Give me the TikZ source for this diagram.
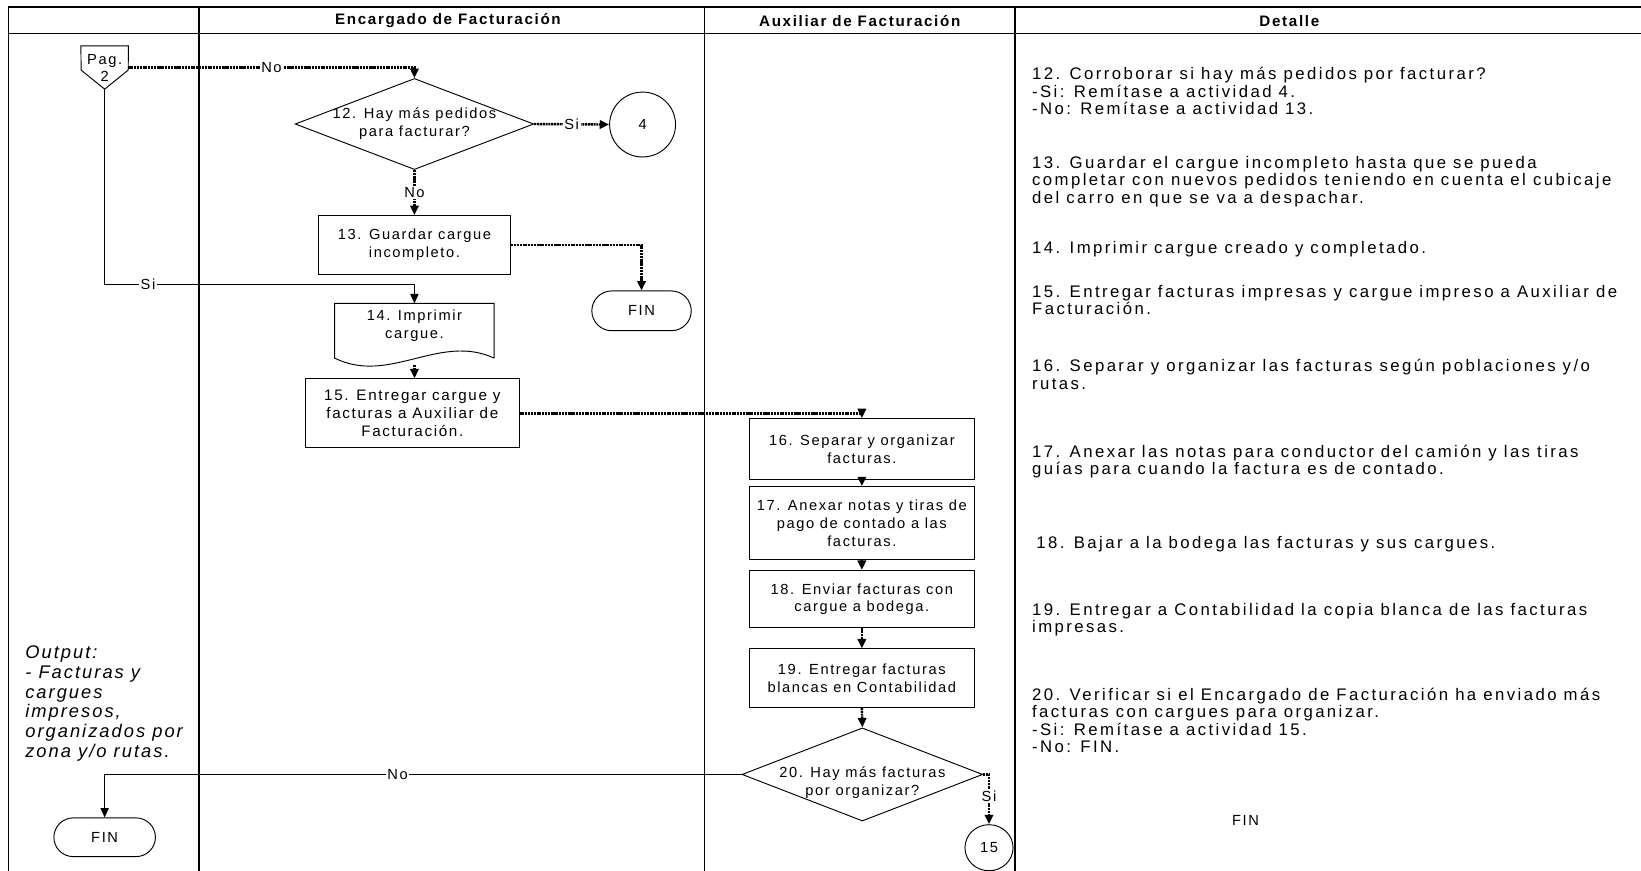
\documentclass[tikz,border=0pt]{standalone}
\usepackage{fontspec}
\setmainfont{Liberation Sans}[LetterSpace=11]
\newfontfamily\detfam{Liberation Sans}[LetterSpace=14.5]
\usetikzlibrary{arrows.meta,shapes.geometric,shapes.misc}

\newcommand\boxfont{\fontsize{14}{17}\selectfont}
\newcommand\detfont{\detfam\fontsize{16}{16.7}\selectfont}
\newcommand\headfont{\fontsize{14.5}{17}\selectfont\bfseries}

\begin{document}
\begin{tikzpicture}[x=1pt,y=-1pt,
  grid/.style={line width=1.6pt},
  shp/.style={draw,line width=0.9pt,inner sep=0pt},
  proc/.style={shp,rectangle,align=center,font=\boxfont},
  dec/.style={shp,diamond},
  term/.style={shp,rounded rectangle,font=\boxfont},
  conn/.style={shp,ellipse,font=\boxfont},
  txt/.style={inner sep=0pt,align=center,font=\boxfont},
  det/.style={inner sep=0pt,align=left,anchor=base west,font=\detfont},
  lbl/.style={fill=white,inner sep=1.5pt,font=\boxfont},
  flow/.style={line width=0.9pt,-{Triangle[length=9pt,width=8pt]}},
  dflow/.style={line width=2.3pt,dash pattern=on 2pt off 0.7pt,-{Triangle[length=9pt,width=8pt]}}]

\useasboundingbox (0,0) rectangle (1568,832);

% swimlane table
\draw[grid] (8,7) -- (1568,7);
\draw[grid] (8,32) -- (1568,32);
\foreach \cx in {8,190,673,970} \draw[grid] (\cx,7) -- (\cx,832);
\node[inner sep=0pt,font=\headfont] (h1) at (428,20) {Encargado de Facturación};
\node[inner sep=0pt,font=\headfont] (h2) at (821.5,20) {Auxiliar de Facturación};
\node[inner sep=0pt,font=\headfont] (h3) at (1232,20) {Detalle};

% off-page connector
\node[minimum width=45pt,minimum height=41pt,inner sep=0pt] (pag) at (100,64.5) {};
\draw[line width=0.9pt] (pag.north west) -- (pag.north east) -- (122.5,67) -- (pag.south) -- (77.5,67) -- cycle;
\node[txt,font=\fontsize{14}{16}\selectfont] (tpag) at (100,65) {Pag.\\2};

% Encargado de Facturacion lane
\node[dec,minimum width=228pt,minimum height=87pt] (d12) at (396,118.5) {};
\node[txt] (t12) at (d12) {12. Hay más pedidos\\para facturar?};
\node[conn,minimum width=63pt,minimum height=62pt] (c4) at (614,119) {4};
\node[proc,minimum width=184pt,minimum height=56pt] (b13) at (396,234) {13. Guardar cargue\\incompleto.};
\node[term,minimum width=95pt,minimum height=38pt] (fin1) at (613,297) {FIN};

\node[minimum width=152pt,minimum height=52pt,inner sep=0pt] (d14) at (396,316) {};
\draw[line width=0.9pt] (d14.south east) -- (d14.north east) -- (d14.north west) -- (d14.south west)
  .. controls (372,368) and (420,318) .. (d14.south east);
\node[txt] (t14) at (396,311) {14. Imprimir\\cargue.};
\coordinate (d14bot) at (396,349);

\node[proc,minimum width=204pt,minimum height=66pt,font=\fontsize{14.5}{17}\selectfont] (b15) at (394,395) {15. Entregar cargue y\\facturas a Auxiliar de\\Facturación.};

% Auxiliar de Facturacion lane
\node[proc,minimum width=215pt,minimum height=58pt] (b16) at (823.5,429) {16. Separar y organizar\\facturas.};
\node[proc,minimum width=215pt,minimum height=70pt] (b17) at (823.5,500) {17. Anexar notas y tiras de\\pago de contado a las\\facturas.};
\node[proc,minimum width=215pt,minimum height=55pt] (b18) at (823.5,572.5) {18. Enviar facturas con\\cargue a bodega.};
\node[proc,minimum width=215pt,minimum height=56pt] (b19) at (823.5,648) {19. Entregar facturas\\blancas en Contabilidad};
\node[dec,minimum width=230pt,minimum height=89pt] (d20) at (824,740) {};
\node[txt] (t20) at (824,748) {20. Hay más facturas\\por organizar?};
\node[conn,minimum width=46pt,minimum height=44pt] (c15) at (945,810) {15};
\node[term,minimum width=97pt,minimum height=37pt] (fin2) at (100,800) {FIN};

% output note (anchored at the baseline of its last line)
\node[inner sep=0pt,align=left,anchor=base west,font=\fontsize{17.5}{19}\selectfont\itshape] (out) at (24,724)
  {Output:\\- Facturas y\\cargues\\impresos,\\organizados por\\zona y/o rutas.};

% connectors
\draw[dflow] (pag.east) -- node[lbl]{No} (pag.east -| d12.north) -- (d12.north);
\draw[dflow] (d12.east) -- node[lbl]{Si} (c4.west);
\draw[dflow] (d12.south) -- node[lbl]{No} (b13.north);
\draw[dflow] (b13.east) -| (fin1.north);
\draw[flow] (pag.south) |- node[lbl,pos=0.57]{Si} (d14.north |- 0,272) -- (d14.north);
\draw[dflow] (d14bot) -- (d14bot |- b15.north);
\draw[dflow] (b15.east) -| (b16.north);
\draw[dflow] (b16.south) -- (b17.north);
\draw[dflow] (b17.south) -- (b18.north);
\draw[dflow] (b18.south) -- (b19.north);
\draw[dflow] (b19.south) -- (d20.north);
\draw[flow] (d20.west) -| node[lbl,pos=0.27]{No} (fin2.north);
\draw[dflow] (d20.east) -| node[lbl,pos=0.72]{Si} (c15.north);

% activity details (each anchored at the baseline of its last line)
\node[det] (e12) at (986,109.4) {12. Corroborar si hay más pedidos por facturar?\\-Si: Remítase a actividad 4.\\-No: Remítase a actividad 13.};
\node[det] (e13) at (986,194.4) {13. Guardar el cargue incompleto hasta que se pueda\\completar con nuevos pedidos teniendo en cuenta el cubicaje\\del carro en que se va a despachar.};
\node[det] (e14) at (986,242) {14. Imprimir cargue creado y completado.};
\node[det] (e15) at (986,300.7) {15. Entregar facturas impresas y cargue impreso a Auxiliar de\\Facturación.};
\node[det] (e16) at (986,371.7) {16. Separar y organizar las facturas según poblaciones y/o\\rutas.};
\node[det] (e17) at (986,453.7) {17. Anexar las notas para conductor del camión y las tiras\\guías para cuando la factura es de contado.};
\node[det] (e18) at (990,524) {18. Bajar a la bodega las facturas y sus cargues.};
\node[det] (e19) at (986,604.7) {19. Entregar a Contabilidad la copia blanca de las facturas\\impresas.};
\node[det] (e20) at (986,719.1) {20. Verificar si el Encargado de Facturación ha enviado más\\facturas con cargues para organizar.\\-Si: Remítase a actividad 15.\\-No: FIN.};
\node[inner sep=0pt,font=\boxfont] (efin) at (1190,784) {FIN};
\end{tikzpicture}
\end{document}
